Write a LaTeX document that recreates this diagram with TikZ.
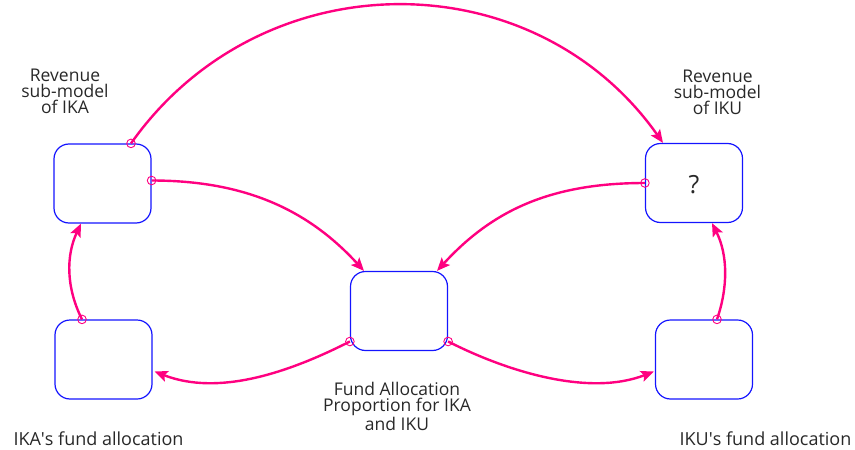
\documentclass[tikz,border=0pt]{standalone}
\usepackage{fontspec}
\setmainfont{Open Sans}
\usetikzlibrary{arrows.meta,calc}
\definecolor{linkpink}{RGB}{255,0,128}
\definecolor{boxblue}{RGB}{20,20,255}
\definecolor{txtgray}{RGB}{40,40,40}
\begin{document}
\begin{tikzpicture}[x=1pt,y=-1pt,
  var/.style={draw=boxblue, line width=1.2pt, rounded corners=15pt, minimum width=97pt, minimum height=79pt, inner sep=0pt},
  link/.style={draw=linkpink, line width=2.4pt, -{Stealth[length=13pt,width=11pt,inset=2.5pt]}},
  ring/.style={draw=linkpink, line width=0.9pt},
  lbl/.style={text=txtgray, font=\fontsize{17.5}{16}\selectfont, align=center, anchor=base, inner sep=0pt}]
\useasboundingbox (0,0) rectangle (855,450);

% stocks / variables
\node[var] (ka)  at (102.5,183.5) {};
\node[var] (ku)  at (694,183) {};
\node[var] (fa)  at (399,311) {};
\node[var] (fka) at (103.5,359.5) {};
\node[var] (fku) at (704,359.5) {};

% labels (anchor = baseline of the last line)
\node[lbl] (lka) at (65,113) {Revenue\\sub-model\\of IKA};
\node[lbl] (lku) at (717.5,114) {Revenue\\sub-model\\of IKU};
\node[lbl, font=\fontsize{25}{25}\selectfont] (q) at (694,193) {?};
\node[lbl] (lfa) at (397,430) {Fund Allocation\\Proportion for IKA\\and IKU};
\node[lbl, font=\fontsize{18}{16}\selectfont] (lfka) at (98.5,445) {IKA\textquotesingle s fund allocation};
\node[lbl, font=\fontsize{18}{16}\selectfont] (lfku) at (765.5,445) {IKU\textquotesingle s fund allocation};

% start points of links
\coordinate (s1) at ([xshift=28.5pt]ka.north);
\coordinate (s2) at ([yshift=3pt]ka.east);
\coordinate (s3) at (ku.west);
\coordinate (s4) at ([yshift=-30.5pt]fa.west);
\coordinate (s5) at ([yshift=-30.5pt]fa.east);
\coordinate (s6) at ([xshift=-21.5pt]fka.north);
\coordinate (s7) at ([xshift=13pt]fku.north);

% links
\draw[link] (s1) .. controls +(130,-184) and +(-130,-184) .. ([xshift=-31pt]ku.north);
\draw[link] (s2) .. controls +(95,0) and +(-55,-60) .. ([xshift=-35pt]fa.north);
\draw[link] (s3) .. controls +(-95,0) and +(55,-60) .. ([xshift=38pt]fa.north);
\draw[link] (s4) .. controls +(-61,31) and +(64,25) .. ([shift={(2pt,-12pt)}]fka.east);
\draw[link] (s5) .. controls +(61,31) and +(-64,25) .. ([shift={(-1pt,-12pt)}]fku.west);
\draw[link] (s6) .. controls +(-16,-32) and +(-15,32) .. ([xshift=-21.5pt]ka.south);
\draw[link] (s7) .. controls +(11,-32) and +(16,32) .. ([xshift=18pt]ku.south);

% link tails
\foreach \s in {s1,s2,s3,s4,s5,s6,s7}
  \draw[ring] (\s) circle[radius=4.3pt];
\end{tikzpicture}
\end{document}
